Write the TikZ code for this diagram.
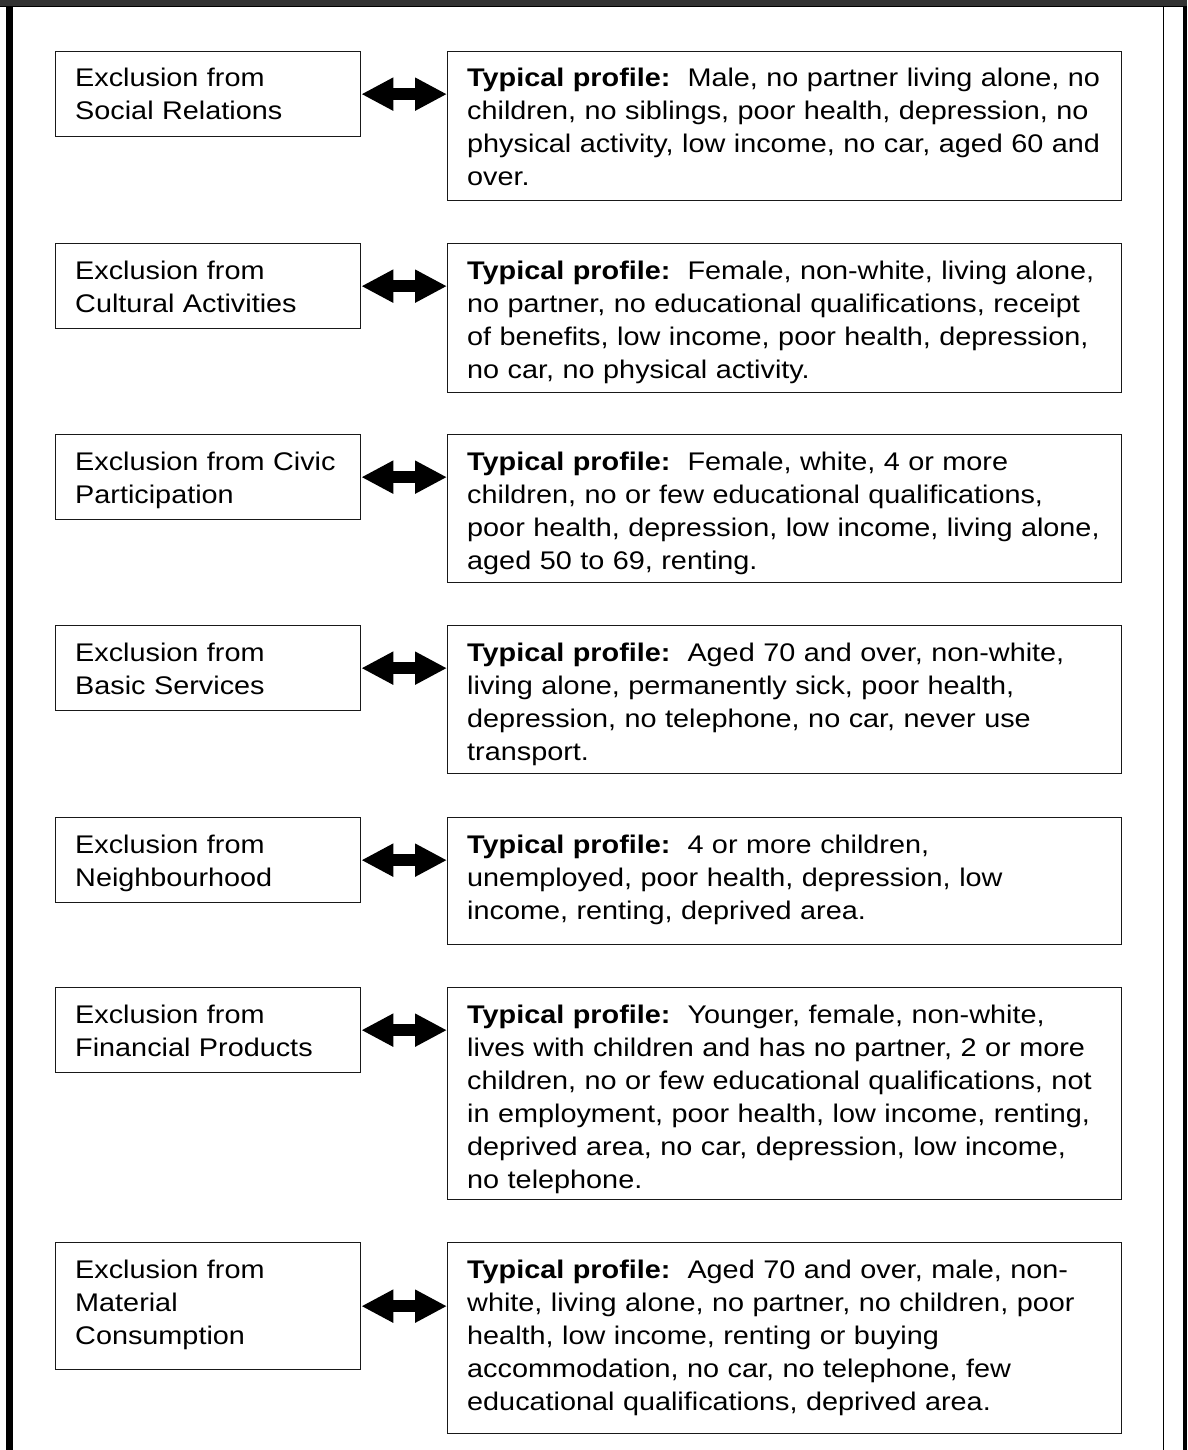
\documentclass[tikz,border=0pt]{standalone}
\usepackage{fontspec}
\setmainfont{Liberation Sans}[FakeStretch=1.13]
\usetikzlibrary{arrows.meta,calc}
\tikzset{
  box/.style={draw=black!90, line width=1.3pt, inner sep=0pt, anchor=north west, fill=white},
  txt/.style={anchor=base west, align=left, inner sep=0pt, text width=700pt,
              font=\fontsize{25.5}{33}\selectfont},
  fat/.style={draw=black, line width=12pt,
              {Triangle[length=32pt,width=31pt]}-{Triangle[length=32pt,width=31pt]}}
}
\newcommand{\exrow}[6]{%
  \node[box, minimum width=305pt, minimum height=#3pt] (L#1) at (55,#2) {};
  \node[box, minimum width=674pt, minimum height=#4pt] (R#1) at (447,#2) {};
  \node[txt] (LT#1) at ($(L#1.north west)+(20,36)$) {#5};
  \node[txt] (RT#1) at ($(R#1.north west)+(20,36)$) {#6};
  \draw[fat] (L#1.east) -- (L#1.east -| R#1.west);
}
\newcommand{\tp}{\textbf{Typical profile:}~~}
\begin{document}
\begin{tikzpicture}[x=1pt,y=-1pt]
\useasboundingbox (0,0) rectangle (1187,1450);
% frame
\fill[black!80] (0,0) rectangle (1187,7);
\draw[black, line width=1pt] (0,7) -- (1187,7);
\fill[black] (6,7) rectangle (13.3,1450);
\draw[black, line width=1.2pt] (1163.5,7) -- (1163.5,1450);
\fill[black] (1183,7) rectangle (1187,1450);
% rows
\exrow{1}{51}{85}{149}{Exclusion from\\Social Relations}
  {\tp Male, no partner living alone, no\\children, no siblings, poor health, depression, no\\physical activity, low income, no car, aged 60 and\\over.}
\exrow{2}{243}{85}{149}{Exclusion from\\Cultural Activities}
  {\tp Female, non-white, living alone,\\no partner, no educational qualifications, receipt\\of benefits, low income, poor health, depression,\\no car, no physical activity.}
\exrow{3}{434}{85}{148}{Exclusion from Civic\\Participation}
  {\tp Female, white, 4 or more\\children, no or few educational qualifications,\\poor health, depression, low income, living alone,\\aged 50 to 69, renting.}
\exrow{4}{625}{85}{148}{Exclusion from\\Basic Services}
  {\tp Aged 70 and over, non-white,\\living alone, permanently sick, poor health,\\depression, no telephone, no car, never use\\transport.}
\exrow{5}{817}{85}{127}{Exclusion from\\Neighbourhood}
  {\tp 4 or more children,\\unemployed, poor health, depression, low\\income, renting, deprived area.}
\exrow{6}{987}{85}{212}{Exclusion from\\Financial Products}
  {\tp Younger, female, non-white,\\lives with children and has no partner, 2 or more\\children, no or few educational qualifications, not\\in employment, poor health, low income, renting,\\deprived area, no car, depression, low income,\\no telephone.}
\exrow{7}{1242}{127}{191}{Exclusion from\\Material\\Consumption}
  {\tp Aged 70 and over, male, non-\\white, living alone, no partner, no children, poor\\health, low income, renting or buying\\accommodation, no car, no telephone, few\\educational qualifications, deprived area.}
\end{tikzpicture}
\end{document}
